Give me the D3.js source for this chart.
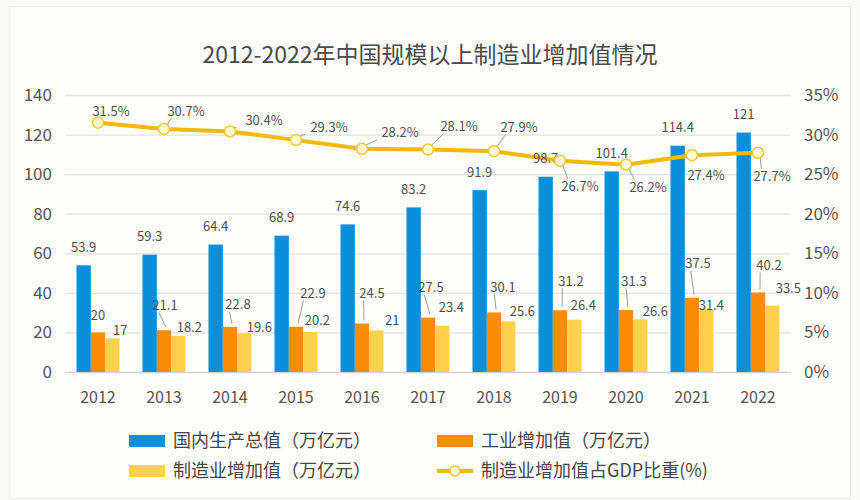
<!DOCTYPE html>
<html>
<head>
<meta charset="utf-8">
<script src="https://cdn.jsdelivr.net/npm/d3@7"></script>
<style>
  body { margin: 0; background: #fbfaf8; }
  svg { display: block; font-family: "Noto Sans CJK SC", "Noto Sans", sans-serif; }
</style>
</head>
<body>
<div id="chart"></div>
<script>
// Data
const years = ["2012", "2013", "2014", "2015", "2016", "2017", "2018", "2019", "2020", "2021", "2022"];
const gdp = [53.9, 59.3, 64.4, 68.9, 74.6, 83.2, 91.9, 98.7, 101.4, 114.4, 121];
const industry = [20, 21.1, 22.8, 22.9, 24.5, 27.5, 30.1, 31.2, 31.3, 37.5, 40.2];
const manufacturing = [17, 18.2, 19.6, 20.2, 21, 23.4, 25.6, 26.4, 26.6, 31.4, 33.5];
const mfgShare = [31.5, 30.7, 30.4, 29.3, 28.2, 28.1, 27.9, 26.7, 26.2, 27.4, 27.7];

const leftTicks = [0, 20, 40, 60, 80, 100, 120, 140];
const rightTicks = [0, 5, 10, 15, 20, 25, 30, 35];

// Colours
const blue = "#0b8fdb";
const orange = "#fb8c05";
const yellow = "#fdd14c";
const gold = "#f3b80a";

// Label nudges [dx, dy, leader line?] relative to the mark they belong to
const industryNudge = [[0,-17,0],[1,-25,1],[8,-22,1],[17,-33,1],[10,-30,1],[3,-30,1],[9,-25,1],[11,-29,1],[8,-29,1],[6,-34,1],[11,-27,1]];
const mfgNudge = [[8,-8,0],[11,-9,0],[15,-6,0],[7,-12,0],[16,-10,0],[9,-18,0],[14,-10,0],[9,-14,0],[15,-8,0],[5,-4,0],[16,-17,0]];
const shareNudge = [[13,-11,0],[22,-18,1],[34,-11,1],[33,-13,1],[38,-16,1],[31,-23,1],[25,-24,1],[20,26,1],[22,23,1],[14,20,0],[14,24,1]];

const width = 860;
const height = 500;

const svg = d3.select("#chart")
    .append("svg")
        .attr("width", width)
        .attr("height", height);

// Card behind the chart
svg.append("rect")
    .attr("x", 9.5).attr("y", 6.5)
    .attr("width", 841).attr("height", 492)
    .attr("fill", "#fefefc")
    .attr("stroke", "#f1ebeb");

svg.append("text")
    .attr("x", 430)
    .attr("y", 63)
    .attr("text-anchor", "middle")
    .attr("fill", "#4a4a4a")
    .style("font-size", "23px")
    .text("2012-2022年中国规模以上制造业增加值情况");

// Scales
const xScale = d3.scaleBand()
    .domain(years)
    .range([65, 791]);
const subScale = d3.scaleBand()
    .domain(["gdp", "industry", "manufacturing"])
    .range([-21.5, 21.5]);
const yLeft = d3.scaleLinear()
    .domain([0, 140])
    .range([372, 95]);
const yRight = d3.scaleLinear()
    .domain([0, 35])
    .range([372, 95]);

const cx = d => xScale(d) + xScale.bandwidth() / 2;

// Gridlines
svg.append("g")
    .selectAll("line")
    .data(leftTicks)
    .join("line")
        .attr("x1", 65)
        .attr("x2", 791)
        .attr("y1", d => yLeft(d) + 0.5)
        .attr("y2", d => yLeft(d) + 0.5)
        .attr("stroke", d => d === 0 ? "#d4d4d4" : "#e2e2e2")
        .attr("stroke-width", 1.3);

// Left axis labels
svg.append("g")
    .selectAll("text")
    .data(leftTicks)
    .join("text")
        .attr("x", 52)
        .attr("y", d => yLeft(d))
        .attr("dy", "0.35em")
        .attr("text-anchor", "end")
        .attr("fill", "#555")
        .style("font-size", "17px")
        .text(d => d);

// Right axis labels
svg.append("g")
    .selectAll("text")
    .data(rightTicks)
    .join("text")
        .attr("x", 804)
        .attr("y", d => yRight(d))
        .attr("dy", "0.35em")
        .attr("fill", "#555")
        .style("font-size", "17px")
        .text(d => d + "%");

// Year labels
svg.append("g")
    .selectAll("text")
    .data(years)
    .join("text")
        .attr("x", d => cx(d))
        .attr("y", 403)
        .attr("text-anchor", "middle")
        .attr("fill", "#555")
        .style("font-size", "16px")
        .text(d => d);

// Bars
const series = [
    {key: "gdp", values: gdp, color: blue},
    {key: "industry", values: industry, color: orange},
    {key: "manufacturing", values: manufacturing, color: yellow}
];

series.forEach(s => {
    svg.append("g")
        .selectAll("rect")
        .data(s.values)
        .join("rect")
            .attr("x", (d, i) => cx(years[i]) + subScale(s.key))
            .attr("y", d => yLeft(d))
            .attr("width", subScale.bandwidth())
            .attr("height", d => yLeft(0) - yLeft(d))
            .attr("fill", s.color);
});

// Line for manufacturing share of GDP
const line = d3.line()
    .x((d, i) => cx(years[i]))
    .y(d => yRight(d));

svg.append("path")
    .datum(mfgShare)
    .attr("d", line)
    .attr("fill", "none")
    .attr("stroke", gold)
    .attr("stroke-width", 4)
    .attr("stroke-linejoin", "round");

// Value labels with optional leader lines
const labelLayer = svg.append("g");

const drawLabels = (values, anchorX, anchorY, nudges, fmt) => {
    values.forEach((v, i) => {
        const ax = anchorX(i);
        const ay = anchorY(v);
        const [dx, dy, leader] = nudges[i];
        const lx = ax + dx;
        const ly = ay + dy;
        if (leader) {
            // end the leader at the label's near edge
            const edgeY = dy < 0 ? ly + 7 : ly - 8;
            const t = (edgeY - ay) / dy;
            const ex = ax + dx * t - (dx > 0 ? 6 : 0);
            labelLayer.append("line")
                .attr("x1", ax + (dx > 0 ? 2 : 0))
                .attr("y1", ay + (dy < 0 ? -3 : 3))
                .attr("x2", ex)
                .attr("y2", edgeY)
                .attr("stroke", "#9a9a9a")
                .attr("stroke-width", 1);
        }
        labelLayer.append("text")
            .attr("x", lx)
            .attr("y", ly)
            .attr("dy", "0.35em")
            .attr("text-anchor", "middle")
            .attr("fill", "#505050")
            .style("font-size", "13px")
            .text(fmt(v));
    });
};

drawLabels(gdp, i => cx(years[i]) + subScale("gdp") + subScale.bandwidth() / 2, yLeft, gdp.map(() => [0, -18, 0]), d => d);
drawLabels(industry, i => cx(years[i]) + subScale("industry") + subScale.bandwidth() / 2, yLeft, industryNudge, d => d);
drawLabels(manufacturing, i => cx(years[i]) + subScale("manufacturing") + subScale.bandwidth() / 2, yLeft, mfgNudge, d => d);
drawLabels(mfgShare, i => cx(years[i]), yRight, shareNudge, d => d + "%");

// Line markers on top
svg.append("g")
    .selectAll("circle")
    .data(mfgShare)
    .join("circle")
        .attr("cx", (d, i) => cx(years[i]))
        .attr("cy", d => yRight(d))
        .attr("r", 5.5)
        .attr("fill", "#fff9d6")
        .attr("stroke", "#eec82a")
        .attr("stroke-width", 1.5);

// Legend
const legendItems = [
    {label: "国内生产总值（万亿元）", color: blue, type: "rect", x: 129, y: 441},
    {label: "工业增加值（万亿元）", color: orange, type: "rect", x: 437, y: 441},
    {label: "制造业增加值（万亿元）", color: yellow, type: "rect", x: 129, y: 471},
    {label: "制造业增加值占GDP比重(%)", color: gold, type: "line", x: 437, y: 471}
];

const legend = svg.append("g");
legendItems.forEach(item => {
    const g = legend.append("g")
        .attr("transform", `translate(${item.x}, ${item.y})`);
    if (item.type === "rect") {
        g.append("rect")
            .attr("x", 0).attr("y", -6)
            .attr("width", 36).attr("height", 12)
            .attr("fill", item.color);
    } else {
        g.append("line")
            .attr("x1", 0).attr("x2", 36)
            .attr("stroke", item.color)
            .attr("stroke-width", 4);
        g.append("circle")
            .attr("cx", 18).attr("r", 5)
            .attr("fill", "#fff9d6")
            .attr("stroke", "#eec82a")
            .attr("stroke-width", 1.5);
    }
    g.append("text")
        .attr("x", 44)
        .attr("dy", "0.36em")
        .attr("fill", "#454545")
        .style("font-size", "18px")
        .text(item.label);
});
</script>
</body>
</html>
